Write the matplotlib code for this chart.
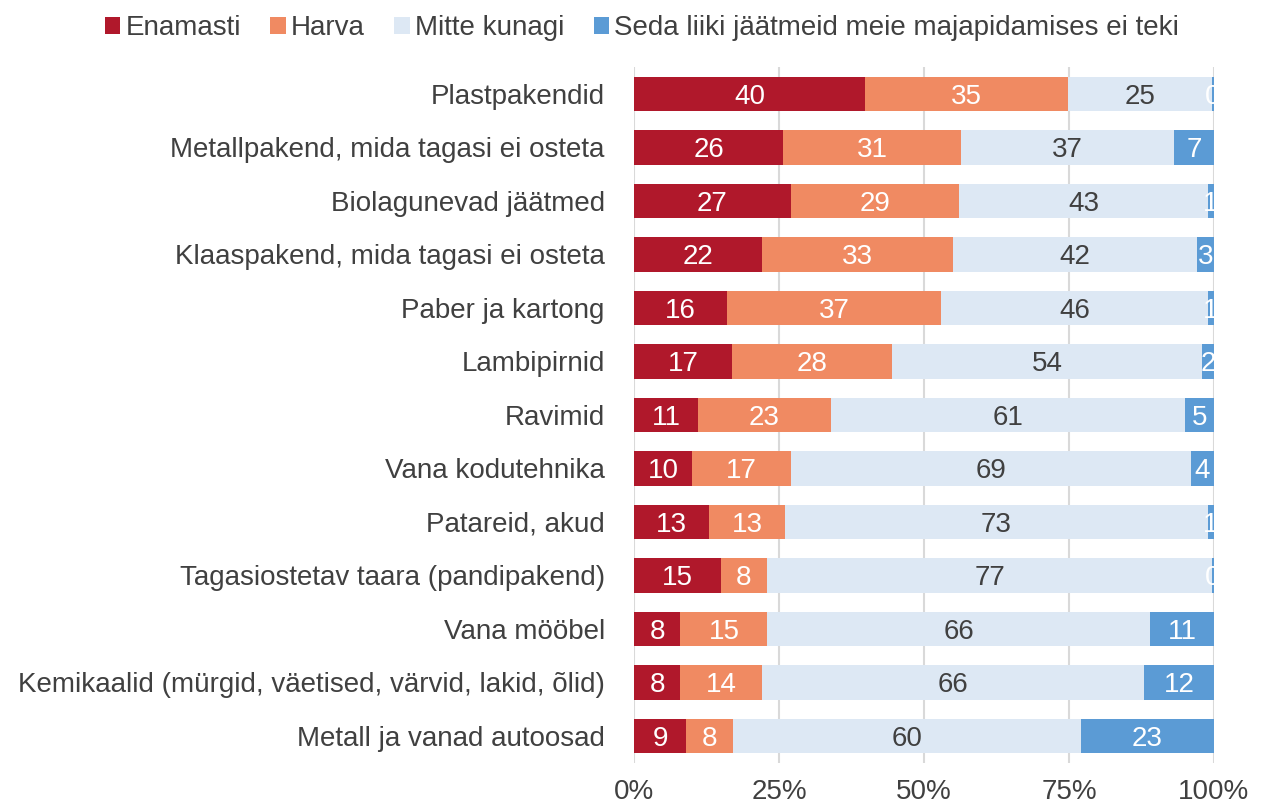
import matplotlib.pyplot as plt
import numpy as np
from matplotlib.ticker import PercentFormatter

plt.rcParams["font.family"] = ["Liberation Sans", "DejaVu Sans"]

CATEGORIES = [
    "Plastpakendid",
    "Metallpakend, mida tagasi ei osteta",
    "Biolagunevad jäätmed",
    "Klaaspakend, mida tagasi ei osteta",
    "Paber ja kartong",
    "Lambipirnid",
    "Ravimid",
    "Vana kodutehnika",
    "Patareid, akud",
    "Tagasiostetav taara (pandipakend)",
    "Vana mööbel",
    "Kemikaalid (mürgid, väetised, värvid, lakid, õlid)",
    "Metall ja vanad autoosad",
]
SERIES = ["Enamasti", "Harva", "Mitte kunagi", "Seda liiki jäätmeid meie majapidamises ei teki"]
enamasti = [40, 26, 27, 22, 16, 17, 11, 10, 13, 15, 8, 8, 9]
harva = [35, 31, 29, 33, 37, 28, 23, 17, 13, 8, 15, 14, 8]
mitte_kunagi = [25, 37, 43, 42, 46, 54, 61, 69, 73, 77, 66, 66, 60]
ei_teki = [0, 7, 1, 3, 1, 2, 5, 4, 1, 0, 11, 12, 23]

COLORS = ["#B0182B", "#F08A62", "#DDE8F4", "#5B9BD5"]
LABEL_COLORS = ["white", "white", "#404040", "white"]
TEXT = "#404040"

data = np.array([enamasti, harva, mitte_kunagi, ei_teki], dtype=float)
shares = data / data.sum(axis=0) * 100
# tiny sliver for zero values so the label still sits at the bar end
shares = np.where(shares == 0, 0.3, shares)
shares = shares / shares.sum(axis=0) * 100

fig = plt.figure(figsize=(12.64, 8.09), dpi=100)
ax = fig.add_axes([0.5016, 0.0572, 0.4588, 0.8597])

y = np.arange(len(CATEGORIES))
left = np.zeros(len(CATEGORIES))
for i, name in enumerate(SERIES):
    bars = ax.barh(y, shares[i], left=left, height=0.64, color=COLORS[i],
                   label=name, zorder=3)
    for j, b in enumerate(bars):
        ax.text(left[j] + shares[i][j] / 2, y[j] + 0.05, f"{int(data[i][j])}",
                ha="center", va="center", fontsize=20, color=LABEL_COLORS[i],
                zorder=4, clip_on=False)
    left += shares[i]

ax.set_xlim(0, 100)
ax.set_ylim(len(CATEGORIES) - 0.5, -0.5)
ax.set_yticks(y)
ax.set_yticklabels(CATEGORIES, fontsize=20, color=TEXT)
ax.set_xticks([0, 25, 50, 75, 100])
ax.xaxis.set_major_formatter(PercentFormatter(decimals=0))
ax.tick_params(axis="x", labelsize=20, colors=TEXT, length=0, pad=12)
ax.tick_params(axis="y", length=0, pad=21)
ax.grid(axis="x", color="#D9D9D9", linewidth=1.5, zorder=0)
for s in ax.spines.values():
    s.set_visible(False)

leg = fig.legend(loc="upper center", bbox_to_anchor=(0.508, 1.012), ncol=4,
                 frameon=False, fontsize=20, handlelength=0.55, handleheight=0.55,
                 handletextpad=0.2, columnspacing=1.05)
for t in leg.get_texts():
    t.set_color(TEXT)

fig.savefig("out.png", dpi=100)
